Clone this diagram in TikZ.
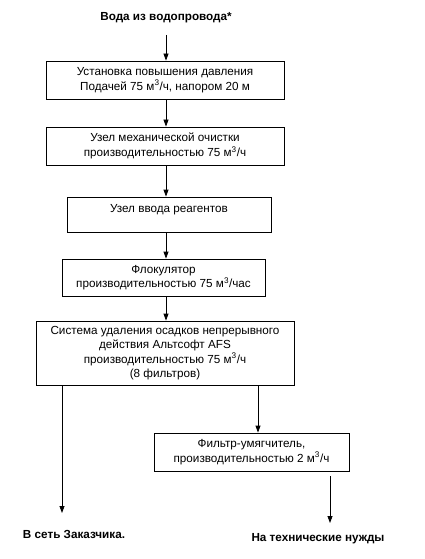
\documentclass[tikz,border=0pt]{standalone}
\usepackage{fontspec}
\setmainfont{Liberation Sans}
\usetikzlibrary{arrows.meta}

\begin{document}
\begin{tikzpicture}[x=1pt,y=-1pt,
		box/.style={draw,line width=0.8pt,align=center,inner sep=2pt,font=\fontsize{11.7}{14.5}\selectfont},
		lbl/.style={font=\fontsize{11.7}{14}\selectfont\bfseries},
		arr/.style={-{Triangle[width=5pt,length=7pt]},line width=0.8pt}]
	\useasboundingbox (0,0) rectangle (424,559);
	\node [lbl] (src) at (166,18) {Вода из водопровода*};
	\node [box,minimum width=238pt,minimum height=38pt] (pump) at (165,80) {Установка повышения давления\\Подачей 75 м\textsuperscript{3}/ч, напором 20 м};
	\node [box,minimum width=238pt,minimum height=38pt] (mech) at (165,146) {Узел механической очистки\\производительностью 75 м\textsuperscript{3}/ч};
	\node [box,minimum width=204pt,minimum height=35pt,text depth=12pt] (reag) at (169,214.5) {Узел ввода реагентов};
	\node [box,minimum width=203pt,minimum height=37pt] (floc) at (163.5,277.5) {Флокулятор\\производительностью 75 м\textsuperscript{3}/час};
	\node [box,minimum width=258pt,minimum height=64pt] (afs) at (165,353) {Система удаления осадков непрерывного\\действия Альтсофт AFS\\производительностью 75 м\textsuperscript{3}/ч\\(8 фильтров)};
	\node [box,minimum width=195pt,minimum height=38pt] (soft) at (251.5,452) {Фильтр-умягчитель,\\производительностью 2 м\textsuperscript{3}/ч};
	\node [lbl] (net) at (74,534) {В сеть Заказчика.};
	\node [lbl] (tech) at (318,539) {На технические нужды};
	\coordinate (end1) at (62,513);
	\coordinate (br) at (258,400);
	\coordinate (end2) at (330,523);
	\draw [arr,shorten <=8pt] (src.south) -- (pump.north -| src);
	\draw [arr] (pump.south -| src) -- (mech.north -| src);
	\draw [arr] (mech.south -| src) -- (reag.north -| src);
	\draw [arr] (reag.south -| src) -- (floc.north -| src);
	\draw [arr] (floc.south -| src) -- (afs.north -| src);
	\draw [arr] (afs.south -| end1) -- (end1);
	\draw [arr] (afs.south -| br) -- (soft.north -| br);
	\draw [arr,shorten <=5pt] (soft.south -| end2) -- (end2);
\end{tikzpicture}
\end{document}
